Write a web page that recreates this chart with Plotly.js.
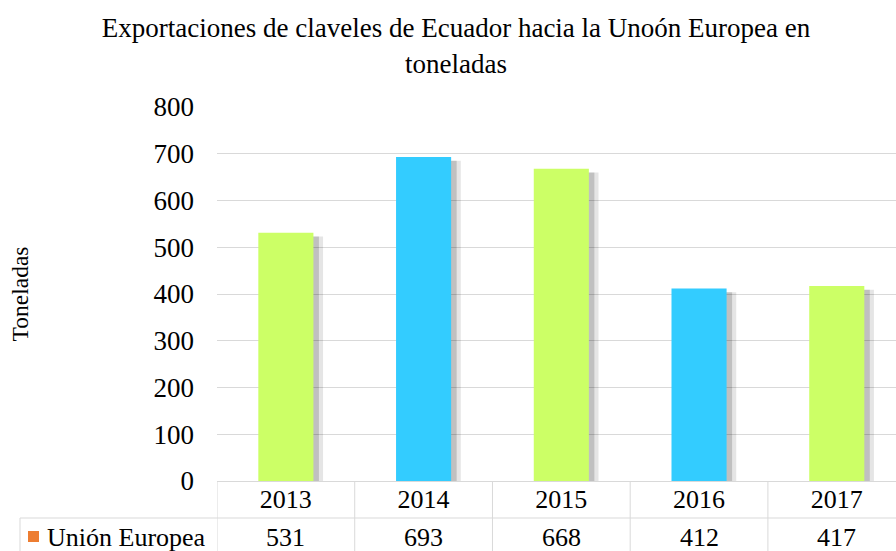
<!DOCTYPE html>
<html>
<head>
<meta charset="utf-8">
<script src="https://cdn.plot.ly/plotly-3.0.1.min.js"></script>
<style>html,body{margin:0;padding:0;background:#fff;}#chart{width:896px;height:551px;}</style>
</head>
<body>
<div id="chart"></div>
<script>
const years = ['2013', '2014', '2015', '2016', '2017'];
const toneladas = [531, 693, 668, 412, 417];
const barColors = ['#CCFF66', '#33CCFF', '#CCFF66', '#33CCFF', '#CCFF66'];
const seriesName = 'Unión Europea';
const yTicks = [0, 100, 200, 300, 400, 500, 600, 700, 800];

const FONT = 'Liberation Serif';
const gridCol = '#d9d9d9';

const shadow1 = {
  type: 'bar', x: years, y: toneladas.map(v => v - 5), base: -3,
  marker: {color: 'rgba(0,0,0,0.10)', line: {width: 0}},
  width: 0.45, offset: -0.18, hoverinfo: 'skip', showlegend: false
};
const shadow2 = {
  type: 'bar', x: years, y: toneladas.map(v => v - 8), base: 0,
  marker: {color: 'rgba(0,0,0,0.16)', line: {width: 0}},
  width: 0.42, offset: -0.18, hoverinfo: 'skip', showlegend: false
};
const bars = {
  type: 'bar', x: years, y: toneladas, name: seriesName,
  marker: {color: barColors, line: {width: 0}},
  width: 0.4, offset: -0.2, showlegend: false
};

const pxL = 217, pxW = 679, pxT = 107, pxH = 374;
const px2x = p => (p - pxL) / pxW;
const py2y = p => (pxT + pxH - p) / pxH;

const shapes = [];
for (let i = 0; i <= years.length; i++) {
  shapes.push({type: 'line', xref: 'x', yref: 'paper', x0: i - 0.5, x1: i - 0.5,
    y0: 0, y1: py2y(551), line: {color: gridCol, width: 1}});
}
shapes.push({type: 'line', xref: 'paper', yref: 'paper', x0: px2x(20), x1: 1,
  y0: py2y(518), y1: py2y(518), line: {color: gridCol, width: 1}});
shapes.push({type: 'line', xref: 'paper', yref: 'paper', x0: px2x(20), x1: px2x(20),
  y0: py2y(518), y1: py2y(551), line: {color: gridCol, width: 1}});
shapes.push({type: 'rect', xref: 'paper', yref: 'paper', x0: px2x(28), x1: px2x(39),
  y0: py2y(542), y1: py2y(531), fillcolor: '#ED7D31', line: {width: 0}});

const annotations = years.map((yr, i) => ({
  xref: 'x', yref: 'paper', x: i, y: py2y(537), text: String(toneladas[i]),
  showarrow: false, xanchor: 'center', yanchor: 'middle',
  font: {family: FONT, size: 26, color: '#000'}
}));
annotations.push({
  xref: 'paper', yref: 'paper', x: px2x(45), y: py2y(537), text: seriesName,
  showarrow: false, xanchor: 'left', yanchor: 'middle',
  font: {family: FONT, size: 26, color: '#000'}
});

const layout = {
  width: 896, height: 551,
  margin: {l: 217, r: 0, t: 107, b: 70},
  paper_bgcolor: '#fff', plot_bgcolor: '#fff',
  font: {family: FONT, color: '#000'},
  title: {
    text: 'Exportaciones de claveles de Ecuador hacia la Unoón Europea en<br>toneladas',
    font: {family: FONT, size: 27, color: '#000'},
    xref: 'container', yref: 'container', x: 0.509, xanchor: 'center',
    y: 0.932, yanchor: 'top'
  },
  barmode: 'overlay',
  xaxis: {
    type: 'category', range: [-0.5, 4.43], showgrid: false,
    showline: true, linecolor: gridCol, linewidth: 1,
    ticks: '', ticklabelstandoff: -5, tickfont: {family: FONT, size: 26, color: '#000'},
    zeroline: false, fixedrange: true
  },
  yaxis: {
    range: [0, 800], tickvals: yTicks, ticktext: yTicks.map(String),
    showgrid: true, gridcolor: gridCol, gridwidth: 1, zeroline: false,
    showline: false, ticks: '', ticklabelstandoff: 22,
    tickfont: {family: FONT, size: 27, color: '#000'},
    title: {text: 'Toneladas', font: {family: FONT, size: 23.5, color: '#000'}, standoff: 118},
    fixedrange: true
  },
  shapes: shapes,
  annotations: annotations
};

Plotly.newPlot('chart', [shadow1, shadow2, bars], layout, {displayModeBar: false, staticPlot: true});
</script>
</body>
</html>
